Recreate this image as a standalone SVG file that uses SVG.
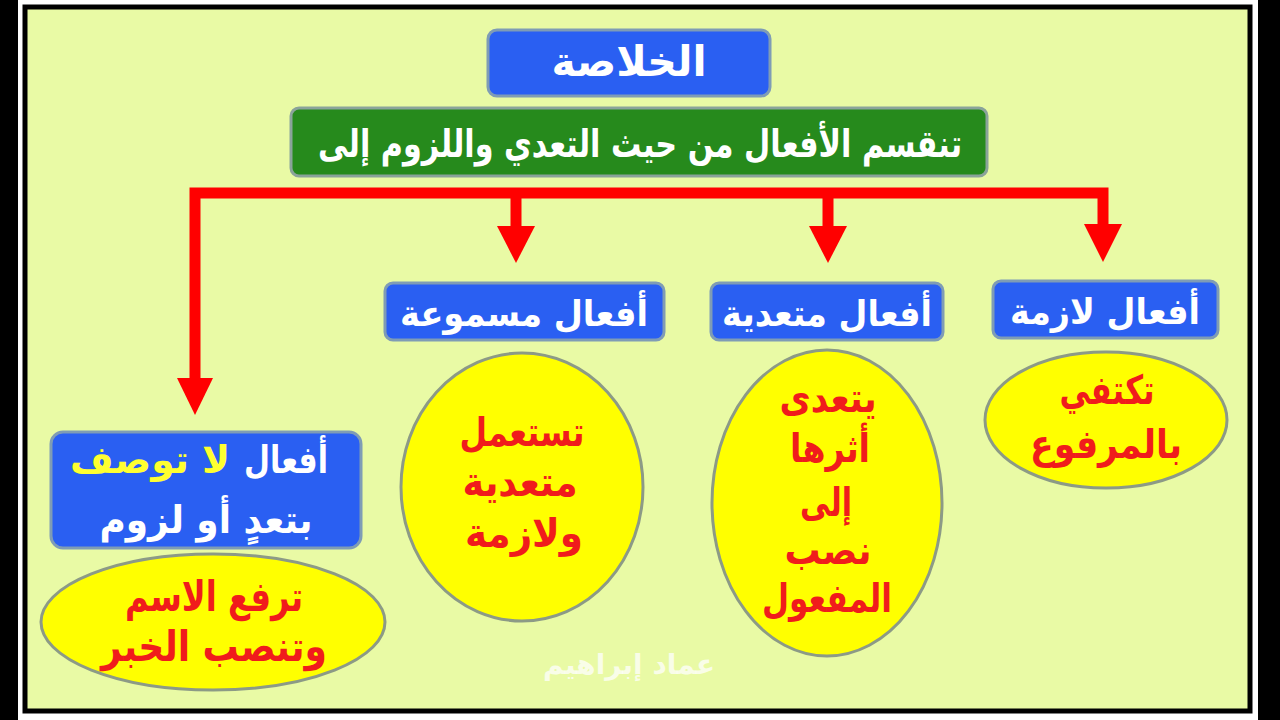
<svg xmlns="http://www.w3.org/2000/svg" width="1280" height="720" viewBox="0 0 1280 720">
<defs>
<style>
.t{font-family:"DejaVu Sans","Liberation Sans",sans-serif;font-weight:bold;text-anchor:middle;direction:rtl}
.w{fill:#ffffff}
.r{fill:#f01c1c}
.blue{fill:#2a5ff2;stroke:#7f9cb5;stroke-width:3}
.ell{fill:#ffff00;stroke:#8c9a86;stroke-width:3}
.wire{stroke:#ff0000;stroke-width:11;fill:none}
.head{fill:#ff0000}
</style>
</defs>
<rect x="0" y="0" width="1280" height="720" fill="#ffffff"/>
<rect x="0" y="0" width="18" height="720" fill="#000"/>
<rect x="1258" y="0" width="22" height="720" fill="#000"/>
<rect x="25" y="7" width="1225" height="704" fill="#e9faa5" stroke="#000" stroke-width="5"/>

<g id="connectors">
<path class="wire" d="M195 380 V193 H1103 V226"/>
<path class="wire" d="M516 193 V228"/>
<path class="wire" d="M828 193 V228"/>
<polygon class="head" points="177,378 213,378 195,415"/>
<polygon class="head" points="497,226 535,226 516,263"/>
<polygon class="head" points="809,226 847,226 828,263"/>
<polygon class="head" points="1084,224 1122,224 1103,262"/>
</g>

<g id="title">
<rect class="blue" x="488" y="30" width="282" height="66" rx="9"/>
<text class="t w" x="629" y="76" font-size="42" textLength="155" lengthAdjust="spacingAndGlyphs">الخلاصة</text>
</g>

<g id="intro">
<rect x="291" y="108" width="696" height="68" rx="8" fill="#268a1c" stroke="#8aa39a" stroke-width="3"/>
<text class="t w" x="640" y="157" font-size="38" textLength="644" lengthAdjust="spacingAndGlyphs">تنقسم الأفعال من حيث التعدي واللزوم إلى</text>
</g>

<g id="lazima">
<rect class="blue" x="993" y="281" width="225" height="57" rx="8"/>
<text class="t w" x="1105" y="324" font-size="36" textLength="190" lengthAdjust="spacingAndGlyphs">أفعال لازمة</text>
<ellipse class="ell" cx="1106" cy="420" rx="121" ry="68"/>
<text class="t r" x="1107" y="404" font-size="40" textLength="95" lengthAdjust="spacingAndGlyphs">تكتفي</text>
<text class="t r" x="1106" y="458" font-size="40" textLength="152" lengthAdjust="spacingAndGlyphs">بالمرفوع</text>
</g>

<g id="mutaaddiya">
<rect class="blue" x="711" y="283" width="232" height="57" rx="8"/>
<text class="t w" x="827" y="326" font-size="36" textLength="210" lengthAdjust="spacingAndGlyphs">أفعال متعدية</text>
<ellipse class="ell" cx="827" cy="503" rx="115" ry="153"/>
<text class="t r" x="828" y="412" font-size="40" textLength="97" lengthAdjust="spacingAndGlyphs">يتعدى</text>
<text class="t r" x="830" y="462" font-size="40" textLength="80" lengthAdjust="spacingAndGlyphs">أثرها</text>
<text class="t r" x="826" y="516" font-size="40" textLength="52" lengthAdjust="spacingAndGlyphs">إلى</text>
<text class="t r" x="828" y="564" font-size="40" textLength="87" lengthAdjust="spacingAndGlyphs">نصب</text>
<text class="t r" x="827" y="612" font-size="40" textLength="130" lengthAdjust="spacingAndGlyphs">المفعول</text>
</g>

<g id="masmuua">
<rect class="blue" x="385" y="283" width="279" height="57" rx="8"/>
<text class="t w" x="524" y="326" font-size="36" textLength="248" lengthAdjust="spacingAndGlyphs">أفعال مسموعة</text>
<ellipse class="ell" cx="522" cy="487" rx="121" ry="134"/>
<text class="t r" x="522" y="446" font-size="40" textLength="125" lengthAdjust="spacingAndGlyphs">تستعمل</text>
<text class="t r" x="520" y="496" font-size="40" textLength="115" lengthAdjust="spacingAndGlyphs">متعدية</text>
<text class="t r" x="524" y="547" font-size="40" textLength="118" lengthAdjust="spacingAndGlyphs">ولازمة</text>
</g>

<g id="la-tusaf">
<rect class="blue" x="51" y="432" width="310" height="116" rx="12"/>
<text class="t w" x="286" y="473" font-size="38" textLength="84" lengthAdjust="spacingAndGlyphs">أفعال</text>
<text class="t" x="150" y="473" font-size="38" fill="#ffff30" textLength="160" lengthAdjust="spacingAndGlyphs">لا توصف</text>
<text class="t w" x="206" y="533" font-size="38" textLength="213" lengthAdjust="spacingAndGlyphs">بتعدٍ أو لزوم</text>
<ellipse class="ell" cx="213" cy="622" rx="172" ry="68"/>
<text class="t r" x="214" y="611" font-size="42" textLength="178" lengthAdjust="spacingAndGlyphs">ترفع الاسم</text>
<text class="t r" x="214" y="661" font-size="42" textLength="226" lengthAdjust="spacingAndGlyphs">وتنصب الخبر</text>
</g>

<text class="t" x="629" y="674" font-size="28" fill="#ffffff" fill-opacity="0.75" textLength="172" lengthAdjust="spacingAndGlyphs">عماد إبراهيم</text>
</svg>
